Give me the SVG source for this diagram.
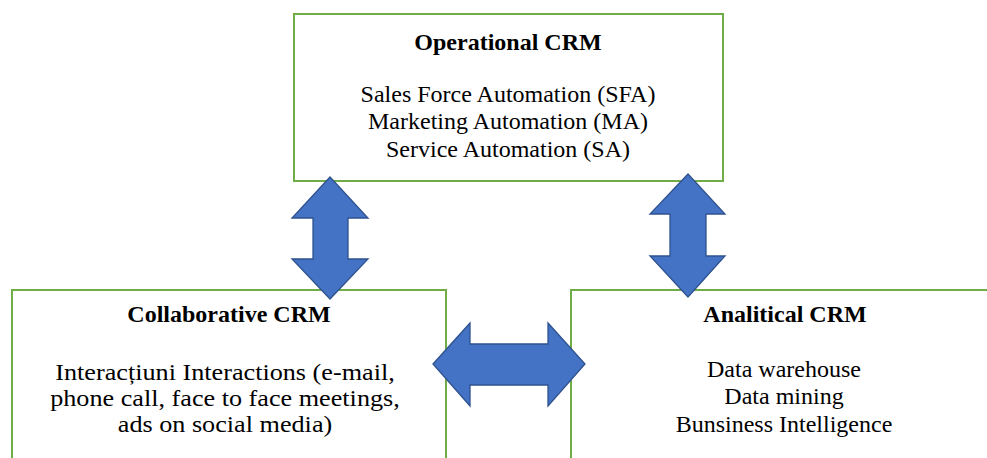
<svg xmlns="http://www.w3.org/2000/svg" width="987" height="458" viewBox="0 0 987 458">
  <defs>
    <style>
      .box { fill: #ffffff; stroke: #70AD47; stroke-width: 2; }
      .arrow { fill: #4472C4; stroke: #2F528F; stroke-width: 1.3; stroke-linejoin: miter; }
      .hd { font-family: "Liberation Serif", "Times New Roman", serif; font-weight: bold; font-size: 24px; fill: #000; text-anchor: middle; }
      .txt { font-family: "Liberation Serif", "Times New Roman", serif; font-size: 24px; fill: #000; text-anchor: middle; }
      .txt-wide { font-family: "Liberation Serif", "Times New Roman", serif; font-size: 22.5px; fill: #000; text-anchor: middle; }
    </style>
  </defs>
  <rect width="987" height="458" fill="#ffffff"/>

  <g id="operational-crm">
    <rect class="box" x="294" y="14" width="429" height="167"/>
    <text class="hd" x="508" y="50">Operational CRM</text>
    <text class="txt" x="508" y="102">Sales Force Automation (SFA)</text>
    <text class="txt" x="508" y="129">Marketing Automation (MA)</text>
    <text class="txt" x="508" y="157">Service Automation (SA)</text>
  </g>

  <g id="collaborative-crm">
    <rect class="box" x="12" y="290" width="434" height="180"/>
    <text class="hd" x="229" y="322">Collaborative CRM</text>
    <!-- body set slightly condensed vertically, wider horizontally -->
    <g transform="translate(225 0) scale(1.164 1)">
      <text class="txt-wide" x="0" y="380">Interacțiuni Interactions (e-mail,</text>
      <text class="txt-wide" x="0" y="406">phone call, face to face meetings,</text>
      <text class="txt-wide" x="0" y="432">ads on social media)</text>
    </g>
  </g>

  <g id="analitical-crm">
    <rect class="box" x="571" y="290" width="430" height="180"/>
    <text class="hd" x="785" y="322">Analitical CRM</text>
    <text class="txt" x="784" y="377">Data warehouse</text>
    <text class="txt" x="784" y="404">Data mining</text>
    <text class="txt" x="784" y="432">Bunsiness Intelligence</text>
  </g>

  <g id="connectors">
    <!-- operational <-> collaborative -->
    <polygon class="arrow" points="330,177 368,218 348,218 348,259 368,259 330,299 292,259 313,259 313,218 292,218"/>
    <!-- operational <-> analitical -->
    <polygon class="arrow" points="688,174 725,214 706,214 706,256 725,256 688,297 650,256 670,256 670,214 650,214"/>
    <!-- collaborative <-> analitical -->
    <polygon class="arrow" points="433,364 470,323 470,344 548,344 548,323 585,364 548,406 548,385 470,385 470,406"/>
  </g>
</svg>
